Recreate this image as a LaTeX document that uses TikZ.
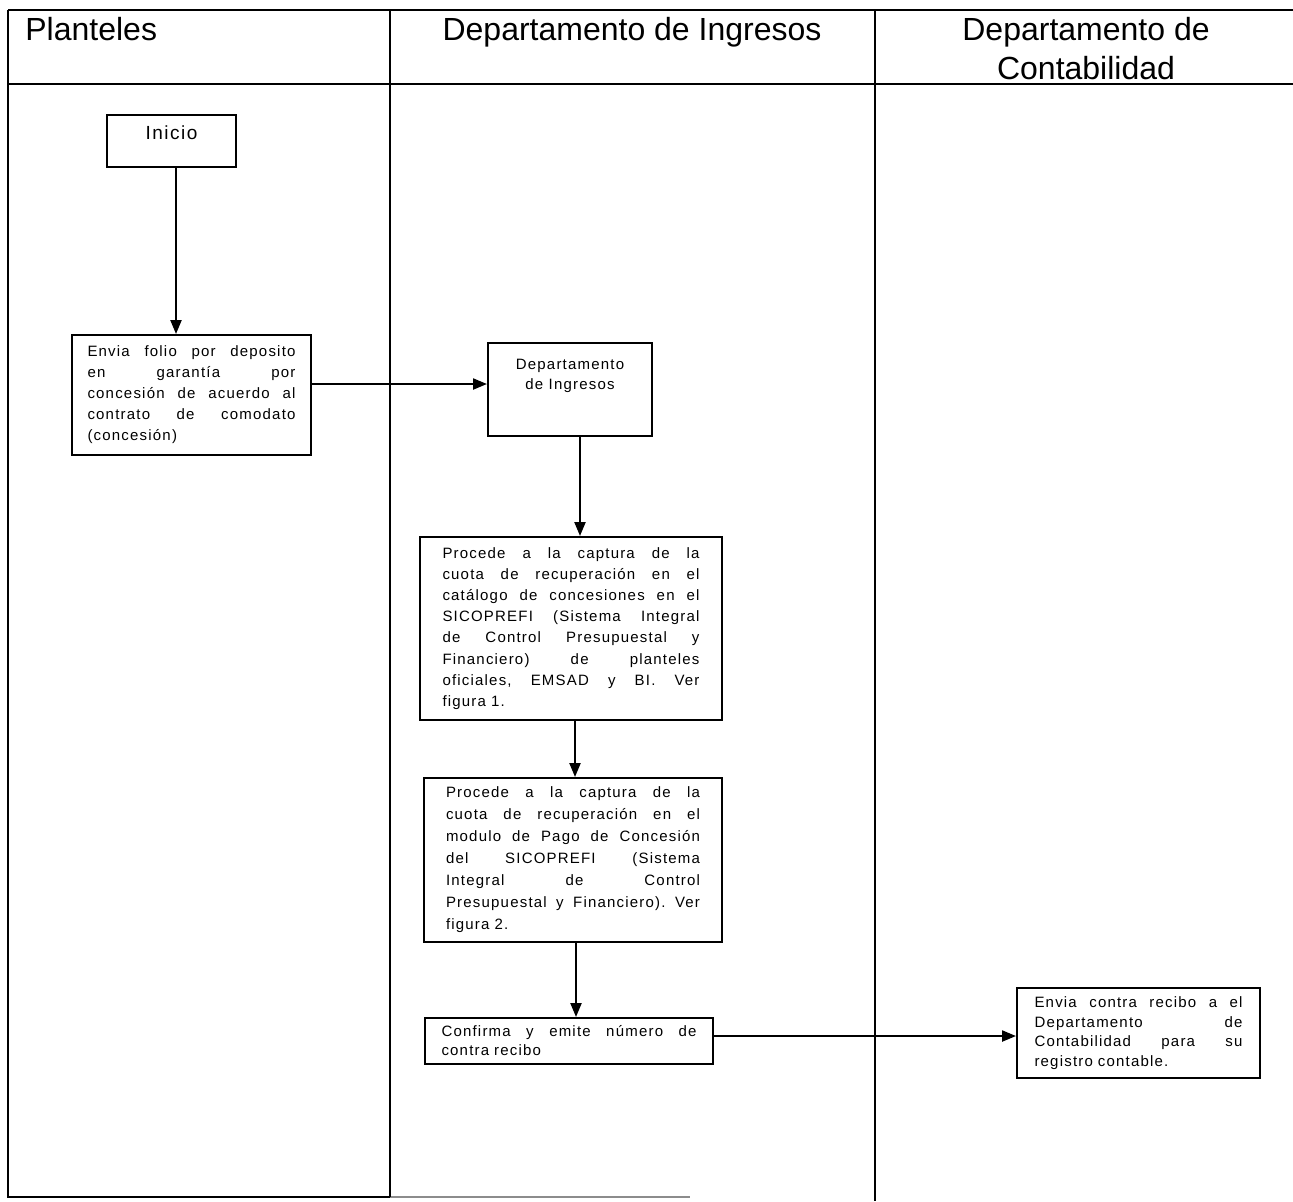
\documentclass[tikz,border=0pt]{standalone}
\usepackage{fontspec}
\setmainfont{Liberation Sans}
\newfontfamily\bodyfont[LetterSpace=8]{Liberation Sans}
\usetikzlibrary{arrows.meta}
\setlength\parindent{0pt}
% one justified line: the words are spread over the width \jw
\newlength\jw
\makeatletter
\def\jl#1{\leavevmode\hbox to\jw{\jl@word#1 \jl@end}}
\def\jl@word#1 #2\jl@end{#1\ifx\relax#2\relax\else\hskip 0.25em plus 1fill\relax\jl@word#2\jl@end\fi}
\makeatother

\begin{document}
\begin{tikzpicture}[x=0.5pt,y=-0.5pt,
  lane/.style={line width=1pt},
  frame/.style={line width=1.3pt},
  box/.style={draw, line width=1pt, inner ysep=0pt, align=left},
  bodytext/.style={font=\bodyfont\fontsize{7.5}{#1}\selectfont},
  arr/.style={line width=1.1pt, -{Triangle[length=7pt,width=5.5pt]}},
  head/.style={inner sep=0pt, font=\fontsize{16}{19.5}\selectfont}
]
\useasboundingbox (0,0) rectangle (1293,1201);

% swimlane frame
\draw[frame] (8,10) -- (1293,10);
\draw[frame] (8,84) -- (1293,84);
\draw[lane] (8,10) -- (8,1197) -- (390,1197);
\draw[lane, black!45] (390,1197) -- (690,1197);
\draw[lane] (390,10) -- (390,1197);
\draw[lane] (875,10) -- (875,1201);

% lane titles
\node[head, anchor=base west] (hplan) at (25,40) {Planteles};
\node[head, anchor=base] (hing) at (632,40) {Departamento de Ingresos};
\node[head, anchor=north, align=center] (hcont) at (1086,16.5) {Departamento de\\Contabilidad};

% process steps
\node[box, minimum width=64.5pt, minimum height=26pt,
  font=\bodyfont\fontsize{9.5}{11}\selectfont] (ini) at (171.5,141)
  {\raisebox{4pt}[\height][\depth]{Inicio}};

\node[box, bodytext=10.5pt, minimum width=119.5pt, minimum height=60pt, text width=104pt] (env) at (191.5,395)
  {\setlength\jw{104pt}%
   \jl{Envia folio por deposito}\\
   \jl{en garantía por}\\
   \jl{concesión de acuerdo al}\\
   \jl{contrato de comodato}\\
   (concesión)};

\node[box, bodytext=10pt, minimum width=82pt, minimum height=46.5pt, align=center] (dep) at (570,389.5)
  {Departamento\\de Ingresos\\[5pt]\mbox{}};

\node[box, bodytext=10.6pt, minimum width=151pt, minimum height=91.5pt, text width=128.5pt] (p1) at (571,628.5)
  {\setlength\jw{128.5pt}%
   \jl{Procede a la captura de la}\\
   \jl{cuota de recuperación en el}\\
   \jl{catálogo de concesiones en el}\\
   \jl{SICOPREFI (Sistema Integral}\\
   \jl{de Control Presupuestal y}\\
   \jl{Financiero) de planteles}\\
   \jl{oficiales, EMSAD y BI. Ver}\\
   figura 1.};

\node[box, bodytext=11pt, minimum width=149pt, minimum height=82pt, text width=127pt] (p2) at (573,860)
  {\setlength\jw{127pt}%
   \jl{Procede a la captura de la}\\
   \jl{cuota de recuperación en el}\\
   \jl{modulo de Pago de Concesión}\\
   \jl{del SICOPREFI (Sistema}\\
   \jl{Integral de Control}\\
   \jl{Presupuestal y Financiero). Ver}\\
   figura 2.};

\node[box, bodytext=9.5pt, minimum width=144pt, minimum height=23pt, text width=127.5pt] (conf) at (569,1041)
  {\setlength\jw{127.5pt}%
   \jl{Confirma y emite número de}\\
   contra recibo};

\node[box, bodytext=9.9pt, minimum width=121.5pt, minimum height=45pt, text width=104pt] (env2) at (1138.5,1033)
  {\setlength\jw{104pt}%
   \jl{Envia contra recibo a el}\\
   \jl{Departamento de}\\
   \jl{Contabilidad para su}\\
   registro contable.};

% connectors
\draw[arr] ([xshift=2.25pt]ini.south) -- ([xshift=2.25pt]ini.south |- env.north);
\draw[arr] ([yshift=2.75pt]dep.west -| env.east) -- ([yshift=2.75pt]dep.west);
\draw[arr] ([xshift=5pt]dep.south) -- ([xshift=5pt]dep.south |- p1.north);
\draw[arr] ([xshift=2pt]p1.south) -- ([xshift=2pt]p1.south |- p2.north);
\draw[arr] ([xshift=1.5pt]p2.south) -- ([xshift=1.5pt]p2.south |- conf.north);
\draw[arr] ([yshift=2.5pt]conf.east) -- ([yshift=2.5pt]conf.east -| env2.west);
\end{tikzpicture}
\end{document}
